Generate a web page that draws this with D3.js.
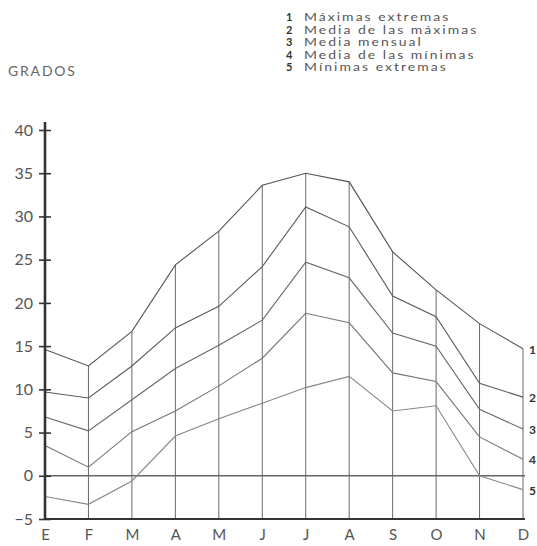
<!DOCTYPE html>
<html>
<head>
<meta charset="utf-8">
<script src="https://cdn.jsdelivr.net/npm/d3@7"></script>
<style>
  html, body { margin: 0; padding: 0; background: #fff; }
  svg { display: block; }
  text { font-family: Lato, "Open Sans", sans-serif; }
</style>
</head>
<body>
<svg id="chart" width="537" height="546"></svg>
<script>
const months = ["E","F","M","A","M","J","J","A","S","O","N","D"];
const maxExtremas   = [14.6, 12.7, 16.7, 24.4, 28.3, 33.6, 35.0, 34.0, 25.9, 21.5, 17.6, 14.7];
const mediaMaximas  = [9.7, 9.0, 12.7, 17.1, 19.6, 24.2, 31.1, 28.8, 20.8, 18.4, 10.7, 9.1];
const mediaMensual  = [6.8, 5.2, 8.8, 12.4, 15.1, 18.0, 24.7, 22.9, 16.5, 15.0, 7.7, 5.4];
const mediaMinimas  = [3.5, 1.0, 5.1, 7.5, 10.4, 13.6, 18.8, 17.7, 11.9, 10.9, 4.5, 1.9];
const minExtremas   = [-2.4, -3.3, -0.6, 4.6, 6.6, 8.4, 10.2, 11.5, 7.5, 8.1, 0.0, -1.6];
const seriesNames = ["Máximas extremas","Media de las máximas","Media mensual","Media de las mínimas","Mínimas extremas"];
const seriesNums = ["1","2","3","4","5"];
const yTicks = [-5,0,5,10,15,20,25,30,35,40];
const yTitle = "GRADOS";

const series = [maxExtremas, mediaMaximas, mediaMensual, mediaMinimas, minExtremas];
const seriesColors = ["#555","#5a5a5a","#666","#777","#888"];

const svg = d3.select("#chart");
const idx = d3.range(months.length);
const x = d3.scaleLinear().domain([0, 11]).range([45, 523]);
const y = d3.scaleLinear().domain([-5, 40]).range([519, 130]);

// vertical month lines
svg.append("g").selectAll("line").data(idx.slice(1)).join("line")
  .attr("x1", i => x(i)).attr("x2", i => x(i))
  .attr("y1", y(-5)).attr("y2", i => y(maxExtremas[i]))
  .attr("stroke", "#6a6a6a").attr("stroke-width", 1);

// zero line
svg.append("line")
  .attr("x1", x(0)).attr("x2", x(11) + 2)
  .attr("y1", y(0)).attr("y2", y(0))
  .attr("stroke", "#666").attr("stroke-width", 1.6);

// bottom axis line
svg.append("line")
  .attr("x1", x(0)).attr("x2", x(11) + 2)
  .attr("y1", y(-5)).attr("y2", y(-5))
  .attr("stroke", "#333").attr("stroke-width", 2.2);

// series lines
const line = d3.line().x((d, i) => x(i)).y(d => y(d));
svg.append("g").selectAll("path").data(series).join("path")
  .attr("d", d => line(d))
  .attr("fill", "none")
  .attr("stroke", (d, i) => seriesColors[i])
  .attr("stroke-width", 1.1);

// y axis
svg.append("line")
  .attr("x1", x(0)).attr("x2", x(0))
  .attr("y1", y(-5) + 1).attr("y2", y(40) - 8)
  .attr("stroke", "#333").attr("stroke-width", 2.6);

const yAxis = d3.axisLeft(y).tickValues(yTicks).tickSize(6).tickPadding(6).tickFormat(d3.format("d"));
const ya = svg.append("g").attr("transform", `translate(${x(0)},0)`).call(yAxis);
ya.select(".domain").remove();
ya.selectAll(".tick line").attr("x2", 6).attr("x1", -6).attr("stroke", "#333").attr("stroke-width", 1.6);
ya.selectAll(".tick text").attr("font-size", 16).attr("fill", "#555")
  .attr("font-family", "Lato, 'Open Sans', sans-serif").attr("x", -12);

// x axis labels
const xa = svg.append("g").attr("transform", `translate(0,${y(-5)})`)
  .call(d3.axisBottom(x).tickValues(idx).tickSize(0).tickPadding(10).tickFormat(i => months[i]));
xa.select(".domain").remove();
xa.selectAll(".tick text").attr("font-size", 15).attr("fill", "#555")
  .attr("font-family", "Lato, 'Open Sans', sans-serif");

// right series numbers
svg.append("g").selectAll("text").data(series).join("text")
  .attr("x", x(11) + 6)
  .attr("y", d => y(d[11]) + 5)
  .attr("font-size", 12).attr("font-weight", "bold").attr("fill", "#333")
  .text((d, i) => seriesNums[i]);

// title
svg.append("text").attr("x", 8).attr("y", 76)
  .attr("font-size", 14).attr("fill", "#666").attr("letter-spacing", 1.8)
  .text(yTitle);

// legend
const lg = svg.append("g");
seriesNames.forEach((name, i) => {
  const yy = 21 + i * 12.5;
  lg.append("text").attr("x", 286).attr("y", yy)
    .attr("font-size", 11).attr("font-weight", "bold").attr("fill", "#333")
    .attr("font-family", "'DejaVu Sans', sans-serif").text(seriesNums[i]);
  lg.append("g").attr("transform", `translate(304,${yy}) scale(1.27,1)`)
    .append("text").attr("x", 0).attr("y", 0)
    .attr("font-size", 11).attr("fill", "#555").attr("letter-spacing", 1.6)
    .attr("font-family", "'DejaVu Sans', sans-serif").text(name);
});
</script>
</body>
</html>
